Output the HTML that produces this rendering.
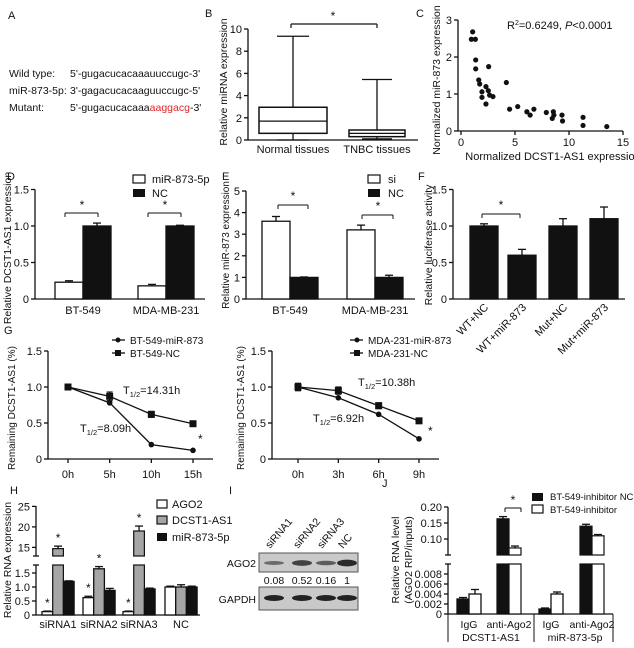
<!DOCTYPE html>
<html><head><meta charset="utf-8">
<style>
html,body{margin:0;padding:0;background:#fff;}
svg{display:block;font-family:"Liberation Sans",Arial,sans-serif;}
text{fill:#111;}
</style></head>
<body>
<svg id="fig" width="634" height="648" viewBox="0 0 634 648" xmlns="http://www.w3.org/2000/svg">
<g font-size="10.5">
<text x="8" y="19" font-size="11">A</text>
<text x="9" y="77">Wild type:</text><text x="70" y="77">5'-gugacucacaaauuccugc-3'</text>
<text x="9" y="94">miR-873-5p:</text><text x="70" y="94">3'-gagacucacaaguuccugc-5'</text>
<text x="9" y="111">Mutant:</text><text x="70" y="111">5'-gugacucacaaa<tspan fill="#e0262a">aaggacg</tspan>-3'</text>
</g>
<g font-size="11">
<text x="205" y="17">B</text>
<text x="416" y="17">C</text>
<text x="7" y="180">D</text>
<text x="222" y="180">E</text>
<text x="418" y="180">F</text>
<text x="4" y="334">G</text>
<text x="10" y="494">H</text>
<text x="229" y="494">I</text>
<text x="382" y="487">J</text>
</g>
<g id="layer"></g>
</svg>
<script>
const bCats = ['Normal tissues','TNBC tissues'];
const bMin = [0.0, 0.1];
const bQ1 = [0.6, 0.3];
const bMed = [1.7, 0.6];
const bQ3 = [2.95, 0.9];
const bMax = [9.35, 5.45];
const bTicks = [0,2,4,6,8,10];
const cX = [1.08,0.96,1.33,1.36,1.36,2.56,1.64,1.73,1.94,1.94,2.31,2.31,2.53,2.65,2.96,4.2,4.5,5.25,6.1,6.4,6.75,7.9,8.55,8.45,8.6,9.35,9.4,11.3,11.3,13.5];
const cY = [2.68,2.48,2.48,1.92,1.68,1.74,1.38,1.27,1.06,0.91,0.73,1.2,1.09,0.97,0.93,1.31,0.59,0.66,0.52,0.43,0.59,0.5,0.52,0.34,0.43,0.43,0.27,0.37,0.15,0.12];
const cXTicks = [0,5,10,15];
const cYTicks = [0,1,2,3];
const dCats = ['BT-549','MDA-MB-231'];
const dMir = [0.23,0.18];
const dMirErr = [0.02,0.02];
const dNC = [1.0,1.0];
const dNCErr = [0.04,0.01];
const dTicks = [0,0.5,1.0,1.5];
const eCats = ['BT-549','MDA-MB-231'];
const eSi = [3.6,3.2];
const eSiErr = [0.22,0.22];
const eNC = [1.0,1.0];
const eNCErr = [0.02,0.1];
const eTicks = [0,1,2,3,4,5];
const fCats = ['WT+NC','WT+miR-873','Mut+NC','Mut+miR-873'];
const fVals = [1.0,0.6,1.0,1.1];
const fErr = [0.03,0.08,0.1,0.16];
const fTicks = [0,0.5,1.0,1.5];
const gLeftTimes = [0,5,10,15];
const gLeftTimeLabels = ['0h','5h','10h','15h'];
const gLeftMir = [1.0,0.78,0.2,0.12];
const gLeftNC = [1.0,0.87,0.62,0.49];
const gLeftErr = [0.04,0.06,0.04,0.03];
const gRightTimes = [0,3,6,9];
const gRightTimeLabels = ['0h','3h','6h','9h'];
const gRightMir = [1.0,0.85,0.62,0.28];
const gRightNC = [1.0,0.95,0.74,0.53];
const gRightErr = [0.05,0.05,0.04,0.03];
const gTicks = [0,0.5,1.0,1.5];
const hCats = ['siRNA1','siRNA2','siRNA3','NC'];
const hAgo = [0.12,0.62,0.12,1.0];
const hAgoErr = [0.02,0.05,0.02,0.03];
const hDcst = [14.7,1.65,19.0,1.0];
const hDcstErr = [0.6,0.08,1.2,0.08];
const hMir = [1.2,0.88,0.93,1.0];
const hMirErr = [0.02,0.07,0.03,0.03];
const hTicksLow = [0,0.5,1.0,1.5];
const hTicksHigh = [15,20,25];
const iLanes = ['siRNA1','siRNA2','siRNA3','NC'];
const iQuant = ['0.08','0.52','0.16','1'];
const iBand = [0.35,0.75,0.5,1.0];
const jCats = ['IgG','anti-Ago2','IgG','anti-Ago2'];
const jNC = [0.003,0.163,0.001,0.14];
const jNCErr = [0.0003,0.007,0.0002,0.006];
const jInh = [0.004,0.072,0.004,0.11];
const jInhErr = [0.0009,0.006,0.0004,0.004];
const jTicksLow = [0,0.002,0.004,0.006,0.008];
const jTickLowLabels = ['0','0.002','0.004','0.006','0.008'];
const jTicksHigh = [0.10,0.15,0.20];
const jTickHighLabels = ['0.10','0.15','0.20'];

const NS='http://www.w3.org/2000/svg';
const layer=document.getElementById('layer');
function mk(tag, attrs, name){
  const e=document.createElementNS(NS,tag);
  for(const k in attrs) e.setAttribute(k,attrs[k]);
  
  
  layer.appendChild(e);
  return e;
}
function line(x1,y1,x2,y2,name,w){return mk('line',{x1,y1,x2,y2,stroke:'#111','stroke-width':w||1.3},name);}
function txt(x,y,s,name,opts){
  const a=Object.assign({x,y,'font-size':11},opts||{});
  const t=mk('text',a,name); t.textContent=s; return t;
}
function yAxis(x,ticks,labels,sc,top,bottom,name){
  line(x,top,x,bottom,name);
  ticks.forEach((v,i)=>{const y=sc(v);line(x-4,y,x,y,name+'-tick');
    txt(x-6,y+4,labels?labels[i]:String(v),name+'-tick-label',{'text-anchor':'end'});});
}
function bar(x,w,sc,v,fill,name){
  const y=sc(v),y0=sc(0);
  return mk('rect',{x,y,width:w,height:y0-y,fill,stroke:'#111','stroke-width':1.3},name);
}
function err(cx,sc,v,e,name){
  const y=sc(v+e); line(cx,sc(v),cx,y,name); line(cx-4,y,cx+4,y,name);
}
function vtxt(x,y,s,name,size){
  const t=mk('text',{x:0,y:0,'font-size':size||10.5,'text-anchor':'middle',transform:`translate(${x},${y}) rotate(-90)`},name);
  t.textContent=s; return t;
}
function bracket(x1,x2,y,name){line(x1,y+4,x1,y,name,1);line(x1,y,x2,y,name,1);line(x2,y,x2,y+4,name,1);}

(function(){
  const sc=v=>140-v*11.1;
  yAxis(248,bTicks,null,sc,sc(10),140,'b-y-axis');
  line(248,140,418,140,'b-x-axis');
  vtxt(227,82,'Relative miRNA expression','b-y-axis-title');
  const cx=[293,377], hw=[34,28], cap=[16,15];
  bCats.forEach((c,i)=>{
    line(cx[i],sc(bMax[i]),cx[i],sc(bMin[i]),'b-whisker-'+i);
    line(cx[i]-cap[i],sc(bMax[i]),cx[i]+cap[i],sc(bMax[i]),'b-cap-top-'+i);
    line(cx[i]-cap[i],sc(bMin[i]),cx[i]+cap[i],sc(bMin[i]),'b-cap-bottom-'+i);
    mk('rect',{x:cx[i]-hw[i],y:sc(bQ3[i]),width:hw[i]*2,height:sc(bQ1[i])-sc(bQ3[i]),fill:'#fff',stroke:'#111','stroke-width':1.5},'b-box-'+i);
    line(cx[i]-hw[i],sc(bMed[i]),cx[i]+hw[i],sc(bMed[i]),'b-median-'+i);
    txt(cx[i],153,c,'b-x-label',{'text-anchor':'middle'});
  });
  line(291,28,291,24,'b-sig-bracket',1.2);line(291,24,377,24,'b-sig-bracket',1.2);line(377,24,377,28,'b-sig-bracket',1.2);
  txt(333,20,'*','b-sig-star',{'text-anchor':'middle','font-size':12});
})();
(function(){
  const sx=v=>461+v*10.8, sy=v=>131-v*37;
  line(458,sy(3),458,131,'c-y-axis'); line(458,131,sx(15),131,'c-x-axis');
  cYTicks.forEach(v=>{line(454,sy(v),458,sy(v),'c-y-tick');txt(452,sy(v)+4,String(v),'c-y-tick-label',{'text-anchor':'end'});});
  cXTicks.forEach(v=>{line(sx(v),131,sx(v),135,'c-x-tick');txt(sx(v),146,String(v),'c-x-tick-label',{'text-anchor':'middle'});});
  cX.forEach((x,i)=>{mk('circle',{cx:sx(x),cy:sy(cY[i]),r:2.6,fill:'#111'},'c-point');});
  const t=txt(507,29,'R','c-r2-annotation',{'font-size':11});
  t.innerHTML='R<tspan dy="-4" font-size="7">2</tspan><tspan dy="4">=0.6249, </tspan><tspan font-style="italic">P</tspan>&lt;0.0001';
  txt(553,160,'Normalized DCST1-AS1 expression','c-x-axis-title',{'text-anchor':'middle'});
  vtxt(440,80,'Normalized miR-873 expression','c-y-axis-title');
})();
(function(){
  const sc=v=>299-v*73;
  yAxis(35,dTicks,['0','0.5','1.0','1.5'],sc,sc(1.5),299,'d-y-axis');
  line(35,299,205,299,'d-x-axis');
  vtxt(11,248,'Relative DCST1-AS1 expression','d-y-axis-title');
  const gx=[55,138];
  dCats.forEach((c,i)=>{
    bar(gx[i],28,sc,dMir[i],'#fff','d-bar-mir-'+i); err(gx[i]+14,sc,dMir[i],dMirErr[i],'d-err');
    bar(gx[i]+28,28,sc,dNC[i],'#111','d-bar-nc-'+i); err(gx[i]+42,sc,dNC[i],dNCErr[i],'d-err');
    txt(gx[i]+28,314,c,'d-x-label',{'text-anchor':'middle'});
    bracket(gx[i]+10,gx[i]+43,213,'d-sig-bracket');
    txt(gx[i]+27,209,'*','d-sig-star',{'text-anchor':'middle','font-size':12});
  });
  mk('rect',{x:133,y:175,width:12,height:8,fill:'#fff',stroke:'#111','stroke-width':1.2},'d-legend-swatch-mir');
  txt(152,183,'miR-873-5p','d-legend-label');
  mk('rect',{x:133,y:189,width:12,height:8,fill:'#111'},'d-legend-swatch-nc');
  txt(152,197,'NC','d-legend-label');
})();
(function(){
  const sc=v=>299-v*21.6;
  yAxis(246,eTicks,null,sc,sc(5),299,'e-y-axis');
  line(246,299,415,299,'e-x-axis');
  vtxt(229,245,'Relative miR-873 expression','e-y-axis-title',10);
  const gx=[262,347];
  eCats.forEach((c,i)=>{
    bar(gx[i],28,sc,eSi[i],'#fff','e-bar-si-'+i); err(gx[i]+14,sc,eSi[i],eSiErr[i],'e-err');
    bar(gx[i]+28,28,sc,eNC[i],'#111','e-bar-nc-'+i); err(gx[i]+42,sc,eNC[i],eNCErr[i],'e-err');
    txt(gx[i]+28,314,c,'e-x-label',{'text-anchor':'middle'});
  });
  bracket(278,308,205,'e-sig-bracket'); txt(293,200,'*','e-sig-star',{'text-anchor':'middle','font-size':12});
  bracket(362,393,215,'e-sig-bracket'); txt(378,210,'*','e-sig-star',{'text-anchor':'middle','font-size':12});
  mk('rect',{x:368,y:175,width:12,height:8,fill:'#fff',stroke:'#111','stroke-width':1.2},'e-legend-swatch-si');
  txt(388,183,'si','e-legend-label');
  mk('rect',{x:368,y:189,width:12,height:8,fill:'#111'},'e-legend-swatch-nc');
  txt(388,197,'NC','e-legend-label');
})();
(function(){
  const sc=v=>299-v*73;
  yAxis(453,fTicks,['0','0.5','1.0','1.5'],sc,sc(1.5),299,'f-y-axis');
  line(453,299,625,299,'f-x-axis');
  vtxt(432,245,'Relative luciferase activity','f-y-axis-title');
  const bx=[470,508,549,590];
  fCats.forEach((c,i)=>{
    bar(bx[i],28,sc,fVals[i],'#111','f-bar-'+i); err(bx[i]+14,sc,fVals[i],fErr[i],'f-err');
    const t=mk('text',{x:0,y:0,'font-size':11,'text-anchor':'end',transform:`translate(${bx[i]+19},${308}) rotate(-45)`},'f-x-label');
    t.textContent=c;
  });
  bracket(482,520,214,'f-sig-bracket'); txt(501,209,'*','f-sig-star',{'text-anchor':'middle','font-size':12});
})();
function gPanel(ax,x0,x1,tmax,times,labels,mir,nc,er,pre){
  const sy=v=>459-v*72, sx=t=>x0+t*(x1-x0)/tmax;
  yAxis(ax,gTicks,['0','0.5','1.0','1.5'],sy,sy(1.5),459,pre+'-y-axis');
  line(ax,459,x1+20,459,pre+'-x-axis');
  times.forEach((t,i)=>{line(sx(t),459,sx(t),463,pre+'-x-tick');txt(sx(t),478,labels[i],pre+'-x-tick-label',{'text-anchor':'middle'});});
  [[nc,'nc'],[mir,'mir']].forEach(([s,n])=>{
    const pts=times.map((t,i)=>sx(t)+','+sy(s[i])).join(' ');
    mk('polyline',{points:pts,fill:'none',stroke:'#111','stroke-width':1.3},pre+'-line-'+n);
    times.forEach((t,i)=>{
      const x=sx(t),y=sy(s[i]);
      if(n==='nc'||i===0){line(x,sy(s[i]+er[i]),x,sy(s[i]-er[i]),pre+'-err',1.2);
        line(x-3,sy(s[i]+er[i]),x+3,sy(s[i]+er[i]),pre+'-err',1.2);line(x-3,sy(s[i]-er[i]),x+3,sy(s[i]-er[i]),pre+'-err',1.2);}
      if(n==='nc') mk('rect',{x:x-3.5,y:y-3.5,width:7,height:7,fill:'#111'},pre+'-marker-nc');
      else mk('circle',{cx:x,cy:y,r:2.8,fill:'#111'},pre+'-marker-mir');
    });
  });
}
(function(){
  gPanel(48,68,193,15,gLeftTimes,gLeftTimeLabels,gLeftMir,gLeftNC,gLeftErr,'g-left');
  vtxt(15,408,'Remaining DCST1-AS1 (%)','g-left-y-axis-title',10);
  let t=txt(123,394,'','g-left-half-life-nc',{'font-size':11}); t.innerHTML='T<tspan dy="3" font-size="7.5">1/2</tspan><tspan dy="-3">=14.31h</tspan>';
  t=txt(80,432,'','g-left-half-life-mir',{'font-size':11}); t.innerHTML='T<tspan dy="3" font-size="7.5">1/2</tspan><tspan dy="-3">=8.09h</tspan>';
  txt(198,443,'*','g-left-sig-star',{'font-size':12});
  line(112,340,125,340,'g-left-legend-line-mir'); mk('circle',{cx:118,cy:340,r:2.5,fill:'#111'},'g-left-legend-marker-mir');
  txt(130,344,'BT-549-miR-873','g-left-legend-label',{'font-size':10});
  line(112,353,125,353,'g-left-legend-line-nc'); mk('rect',{x:115,y:350,width:6,height:6,fill:'#111'},'g-left-legend-marker-nc');
  txt(130,357,'BT-549-NC','g-left-legend-label',{'font-size':10});

  gPanel(272,298,419,9,gRightTimes,gRightTimeLabels,gRightMir,gRightNC,gRightErr,'g-right');
  vtxt(244,408,'Remaining DCST1-AS1 (%)','g-right-y-axis-title',10);
  t=txt(358,386,'','g-right-half-life-nc',{'font-size':11}); t.innerHTML='T<tspan dy="3" font-size="7.5">1/2</tspan><tspan dy="-3">=10.38h</tspan>';
  t=txt(313,422,'','g-right-half-life-mir',{'font-size':11}); t.innerHTML='T<tspan dy="3" font-size="7.5">1/2</tspan><tspan dy="-3">=6.92h</tspan>';
  txt(428,435,'*','g-right-sig-star',{'font-size':12});
  line(350,340,363,340,'g-right-legend-line-mir'); mk('circle',{cx:357,cy:340,r:2.5,fill:'#111'},'g-right-legend-marker-mir');
  txt(368,344,'MDA-231-miR-873','g-right-legend-label',{'font-size':10});
  line(350,353,363,353,'g-right-legend-line-nc'); mk('rect',{x:354,y:350,width:6,height:6,fill:'#111'},'g-right-legend-marker-nc');
  txt(368,357,'MDA-231-NC','g-right-legend-label',{'font-size':10});
})();
(function(){
  const sc=v=> v<=5 ? 615-v*28 : 556-(v-12.9)*4.1;
  const ax=36;
  line(ax,615,ax,565,'h-y-axis'); line(ax,556,ax,506,'h-y-axis');
  line(ax-3,565,ax+3,565,'h-axis-break');line(ax-3,556,ax+3,556,'h-axis-break');
  hTicksLow.forEach(v=>{line(ax-4,sc(v),ax,sc(v),'h-y-tick');txt(ax-6,sc(v)+4,v===0?'0':v.toFixed(1),'h-y-tick-label',{'text-anchor':'end'});});
  hTicksHigh.forEach(v=>{line(ax-4,sc(v),ax,sc(v),'h-y-tick');txt(ax-6,sc(v)+4,String(v),'h-y-tick-label',{'text-anchor':'end'});});
  line(ax,615,200,615,'h-x-axis');
  vtxt(11,560,'Relative RNA expression','h-y-axis-title');
  const gx=[42,83,123,165], w=10.7;
  hCats.forEach((c,i)=>{
    const series=[[hAgo,hAgoErr,'#fff','ago2'],[hDcst,hDcstErr,'#a6a6a6','dcst1-as1'],[hMir,hMirErr,'#111','mir-873-5p']];
    series.forEach(([s,e,f,n],k)=>{
      const x=gx[i]+k*w;
      if(s[i]>5){
        mk('rect',{x,y:sc(s[i]),width:w,height:556-sc(s[i]),fill:f,stroke:'#111','stroke-width':1.2},'h-bar-'+n+'-upper');
        mk('rect',{x,y:565,width:w,height:50,fill:f,stroke:'#111','stroke-width':1.2},'h-bar-'+n+'-lower');
        mk('rect',{x:x-1,y:557,width:w+2,height:7,fill:'#fff'},'h-bar-break-gap');
      } else bar(x,w,sc,s[i],f,'h-bar-'+n);
      err(x+w/2,sc,s[i],e[i],'h-err');
      if(i<3 && k<2) txt(x+w/2,sc(s[i]+e[i])-4,'*','h-sig-star',{'text-anchor':'middle','font-size':12});
    });
    txt(gx[i]+16,628,c,'h-x-label',{'text-anchor':'middle'});
  });
  mk('rect',{x:157,y:500,width:10,height:8,fill:'#fff',stroke:'#111','stroke-width':1.2},'h-legend-swatch-ago2');
  txt(172,508,'AGO2','h-legend-label');
  mk('rect',{x:157,y:516,width:10,height:8,fill:'#a6a6a6',stroke:'#111','stroke-width':1.2},'h-legend-swatch-dcst1-as1');
  txt(172,524,'DCST1-AS1','h-legend-label');
  mk('rect',{x:157,y:533,width:10,height:8,fill:'#111'},'h-legend-swatch-mir');
  txt(172,541,'miR-873-5p','h-legend-label');
})();
(function(){
  const lx=[274,302,326,347];
  mk('rect',{x:259,y:553,width:99,height:19,fill:'#c9c9c9',stroke:'#555','stroke-width':1},'i-blot-ago2');
  mk('rect',{x:259,y:587,width:99,height:23,fill:'#c9c9c9',stroke:'#555','stroke-width':1},'i-blot-gapdh');
  txt(256,567,'AGO2','i-row-label-ago2',{'text-anchor':'end','font-size':10.5});
  txt(256,603,'GAPDH','i-row-label-gapdh',{'text-anchor':'end','font-size':10.5});
  iLanes.forEach((l,i)=>{
    mk('ellipse',{cx:lx[i],cy:563,rx:10,ry:1.2+2.2*iBand[i],fill:'#222','fill-opacity':0.35+0.6*iBand[i]},'i-band-ago2');
    mk('ellipse',{cx:lx[i],cy:598,rx:10,ry:3,fill:'#222'},'i-band-gapdh');
    txt(lx[i],584,iQuant[i],'i-quant-label',{'text-anchor':'middle','font-size':10.5});
    const t=mk('text',{x:0,y:0,'font-size':10.5,transform:`translate(${lx[i]-4},${549}) rotate(-50)`},'i-lane-label'); t.textContent=l;
  });
})();
(function(){
  const sc=v=> v<=0.02 ? 614-v*5000 : 555-(v-0.05)*320;
  const ax=448;
  line(ax,614,ax,564,'j-y-axis'); line(ax,555,ax,507,'j-y-axis');
  line(ax-3,564,ax+3,564,'j-axis-break');line(ax-3,555,ax+3,555,'j-axis-break');
  jTicksLow.forEach((v,i)=>{line(ax-4,sc(v),ax,sc(v),'j-y-tick');txt(ax-6,sc(v)+4,jTickLowLabels[i],'j-y-tick-label',{'text-anchor':'end'});});
  jTicksHigh.forEach((v,i)=>{line(ax-4,sc(v),ax,sc(v),'j-y-tick');txt(ax-6,sc(v)+4,jTickHighLabels[i],'j-y-tick-label',{'text-anchor':'end'});});
  line(ax,614,613,614,'j-x-axis');
  line(ax,614,ax,642,'j-group-separator',1);line(534,614,534,642,'j-group-separator',1);line(613,614,613,642,'j-group-separator',1);
  vtxt(399,560,'Relative RNA level','j-y-axis-title');
  vtxt(412,560,'(AGO2 RIP/inputs)','j-y-axis-title');
  const gx=[457,497,539,580], w=12;
  jCats.forEach((c,i)=>{
    [[jNC,jNCErr,'#111','nc'],[jInh,jInhErr,'#fff','inhibitor']].forEach(([s,e,f,n],k)=>{
      const x=gx[i]+k*w;
      if(s[i]>0.02){
        mk('rect',{x,y:sc(s[i]),width:w,height:555-sc(s[i]),fill:f,stroke:'#111','stroke-width':1.2},'j-bar-'+n+'-upper');
        mk('rect',{x,y:564,width:w,height:50,fill:f,stroke:'#111','stroke-width':1.2},'j-bar-'+n+'-lower');
        mk('rect',{x:x-1,y:556,width:w+2,height:7,fill:'#fff'},'j-bar-break-gap');
      } else bar(x,w,sc,s[i],f,'j-bar-'+n);
      err(x+w/2,sc,s[i],e[i],'j-err');
    });
    txt(gx[i]+12,628,c,'j-x-label',{'text-anchor':'middle','font-size':10.5});
  });
  txt(491,641,'DCST1-AS1','j-group-label',{'text-anchor':'middle','font-size':10.5});
  txt(575,641,'miR-873-5p','j-group-label',{'text-anchor':'middle','font-size':10.5});
  bracket(505,521,508,'j-sig-bracket'); txt(513,504,'*','j-sig-star',{'text-anchor':'middle','font-size':12});
  mk('rect',{x:532,y:493,width:11,height:8,fill:'#111'},'j-legend-swatch-nc');
  txt(550,500,'BT-549-inhibitor NC','j-legend-label',{'font-size':9.5});
  mk('rect',{x:532,y:505,width:11,height:8,fill:'#fff',stroke:'#111','stroke-width':1.2},'j-legend-swatch-inhibitor');
  txt(550,513,'BT-549-inhibitor','j-legend-label',{'font-size':9.5});
})();
</script>
</body></html>
